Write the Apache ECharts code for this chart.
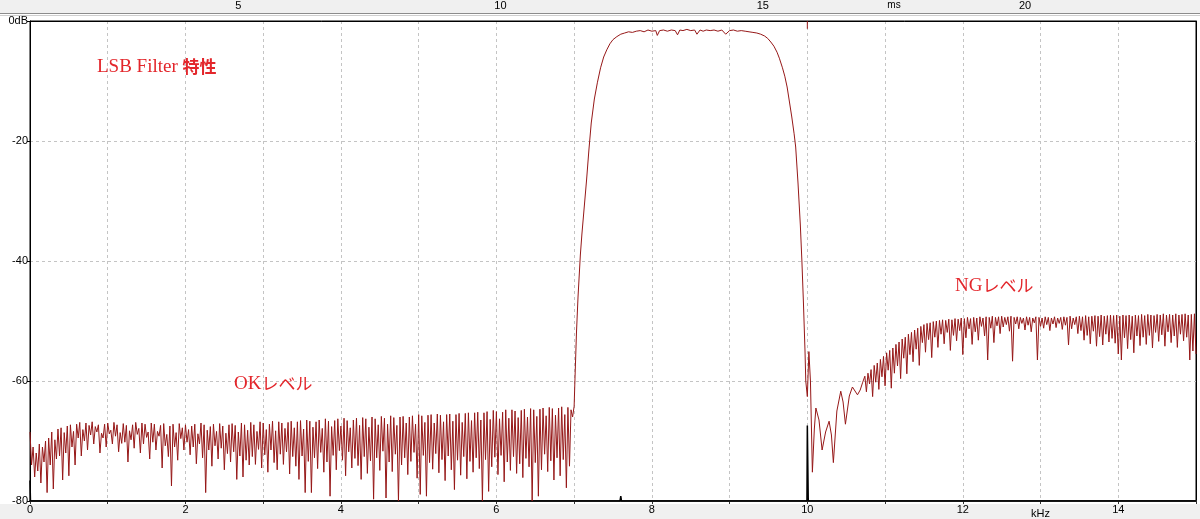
<!DOCTYPE html>
<html>
<head>
<meta charset="utf-8">
<script src="https://cdn.jsdelivr.net/npm/echarts@6/dist/echarts.min.js"></script>
<style>
  html, body { margin: 0; padding: 0; background: #ffffff; }
  #chart { width: 1200px; height: 519px; }
</style>
</head>
<body>
<div id="chart"></div>
<script>
// ---------- DATA ----------
// Stop-band noise below the filter, 0.00 .. 6.98 kHz, one value every 0.02 kHz
const noiseStartKHz = 0;
const noiseStepKHz = 0.02;
const noiseDb = [
  -68.5,-74,-71,-76,-72,-75,-70.5,-77,-71,-73.5,
  -70,-78.6,-69.5,-74,-68.5,-78,-69.8,-73,-68,-72.5,
  -67.8,-76.5,-68.6,-72,-67.5,-75.8,-67.3,-71,-68.4,-74,
  -67.2,-69.5,-66.9,-72.5,-68.1,-70,-67,-71.5,-67.4,-69,
  -66.8,-70.5,-67.6,-68.5,-67.3,-72,-68.7,-69.5,-67.2,-71,
  -67,-68.8,-68.2,-70.5,-66.9,-69.2,-67.3,-71.8,-68.6,-70.4,
  -67.1,-70.2,-67.4,-73.5,-68.3,-69.8,-67.3,-71.2,-66.9,-68.9,
  -67.9,-72,-67,-70.5,-67.2,-69.4,-68.5,-73,-67,-70.2,
  -67.2,-71.5,-68.4,-69.2,-67.4,-74.5,-67.1,-70.8,-68.9,-72.6,
  -67.5,-77.5,-67.2,-71,-68.6,-73.2,-67.1,-69.6,-67.8,-71.5,
  -67.3,-70.2,-68.1,-72.3,-67.5,-71,-67.2,-73.8,-68.8,-70.5,
  -67,-72.8,-67.3,-78.6,-68.2,-71.5,-67.6,-74.2,-67.2,-70.8,
  -68.4,-73,-67.1,-71.2,-67.5,-74.8,-68.7,-72.1,-67.3,-73.5,
  -67.1,-71.8,-67.4,-76.4,-68.5,-72.5,-67,-76,-67.3,-73.2,
  -68.2,-74,-66.9,-72.6,-67.3,-73.9,-68.4,-71.4,-66.8,-74.5,
  -67,-72.3,-68.1,-75.2,-67.2,-71.5,-66.7,-73.6,-68.3,-74.8,
  -66.8,-72.2,-67,-73.9,-67.9,-71.8,-66.9,-75.5,-66.7,-72.6,
  -67.8,-74.2,-66.8,-76.4,-66.6,-72.5,-68,-78.6,-66.5,-73.4,
  -66.7,-78.6,-67.7,-72.8,-66.8,-74.6,-66.5,-71.9,-67.9,-75.2,
  -66.3,-73.5,-66.7,-79.2,-67.6,-72.4,-66.6,-74.8,-66.3,-71.6,
  -67.5,-73.2,-66.2,-75.8,-66.6,-71.8,-67.8,-74.5,-66.5,-72.9,
  -66.2,-74.1,-67.4,-76.4,-66.1,-72.6,-66.3,-75.4,-67.7,-73.3,
  -66,-79.7,-66.3,-72.8,-67.3,-74.9,-65.9,-71.7,-66.2,-79.5,
  -67.2,-73.5,-65.8,-75.1,-66.1,-72.2,-67.4,-80,-66,-74,
  -65.9,-72.8,-67,-75.6,-66,-73.4,-65.8,-71.9,-67.2,-76.2,
  -65.6,-78.9,-65.8,-72.4,-66.9,-79.2,-65.7,-73.6,-65.6,-74.7,
  -67,-72.1,-65.5,-75.3,-65.7,-73.1,-66.8,-76.6,-65.6,-72.5,
  -65.5,-74.8,-66.7,-78.1,-65.6,-73.2,-65.4,-75.7,-66.9,-72.6,
  -65.4,-76.3,-65.3,-73.4,-66.6,-75.2,-65.3,-72.8,-65.2,-74.6,
  -66.5,-80,-65.3,-73.1,-65.1,-78.4,-66.4,-74.3,-64.9,-72.7,
  -65.1,-75.6,-66.3,-72.4,-65.2,-76.8,-64.8,-73.5,-66.2,-74.9,
  -64.8,-72.6,-65,-75.4,-66.1,-73.8,-64.9,-76.1,-64.7,-72.9,
  -66,-74.3,-64.6,-80,-64.8,-73.6,-65.9,-79.2,-64.7,-74.8,
  -64.5,-72.2,-65.8,-75.1,-64.4,-73.3,-64.6,-76.5,-65.7,-72.8,
  -64.5,-75.8,-64.3,-73.1,-65.6,-77.8,-64.4,-74.2,-64.8,-66
];

// Pass band of the LSB filter (kHz, dB)
const passKHz = [7.00,7.01,7.03,7.05,7.08,7.10,7.13,7.16,7.19,7.22,7.26,7.30,7.34,7.38,7.42,7.46,7.50,7.55,7.60,7.65,
  7.70,7.75,7.80,7.85,7.90,7.95,8.00,8.05,8.07,8.10,8.15,8.20,8.25,8.30,8.33,8.36,8.40,8.45,8.50,8.55,
  8.58,8.62,8.66,8.70,8.75,8.80,8.85,8.90,8.95,9.00,9.05,9.10,9.15,9.20,9.25,9.30,9.35,9.40,9.45,9.49,
  9.53,9.57,9.61,9.64,9.68,9.71,9.74,9.77,9.80,9.83,9.85,9.88,9.91,9.93,9.95,9.97,9.98,10.00];
const passDb = [-64.2,-60,-52,-46,-39,-35.5,-31,-26.5,-21.5,-17,-13,-10.2,-7.8,-6,-4.8,-3.8,-3.1,-2.6,-2.2,-2.0,
  -1.8,-1.9,-1.7,-1.6,-1.8,-1.5,-1.7,-1.6,-2.4,-1.6,-1.5,-1.7,-1.5,-1.6,-2.3,-1.5,-1.6,-1.4,-1.6,-1.5,
  -2.2,-1.5,-1.7,-1.5,-1.6,-1.5,-1.7,-1.5,-2.2,-1.6,-1.5,-1.7,-1.6,-1.7,-1.8,-1.9,-2.0,-2.2,-2.5,-2.9,
  -3.5,-4.2,-5.2,-6.2,-7.8,-9.2,-11,-13.5,-16,-18.8,-21,-27,-34,-40,-47,-55,-60,-62.6];

// Just above the filter edge (kHz, dB)
const edgeKHz = [10.02,10.04,10.065,10.09,10.11,10.15,10.19,10.235,10.28,10.31,10.335,10.38,10.43,10.46,10.49,10.54,10.58,10.645,10.68,10.71];
const edgeDb  = [-55.1,-60,-75.2,-68,-64.5,-66.5,-71.5,-68.5,-66.7,-69,-73.6,-65,-61.7,-63.5,-67.2,-62.5,-61,-62.3,-61.5,-60.3];

// Upper stop band (NG level), 10.74 .. 15.00 kHz, one value every 0.02 kHz
const stopStartKHz = 10.74;
const stopStepKHz = 0.02;
const stopDb = [
  -59.2,-61.8,-58.7,-60.5,-58.1,-62.6,-57.4,-60.2,-57,-61.4,
  -56.4,-59.3,-55.9,-60.8,-55.3,-58.2,-54.9,-61.2,-54.5,-58.7,
  -53.9,-57.5,-53.5,-59.6,-53,-56.2,-52.7,-58.8,-52.2,-55.6,
  -51.9,-56.8,-51.5,-54.7,-51.2,-57.4,-50.9,-53.6,-50.6,-55.2,
  -50.4,-53.1,-50.3,-56.1,-50.1,-52.7,-50,-54.4,-49.9,-52.2,
  -49.8,-53.8,-49.9,-51.9,-49.7,-54.9,-49.8,-52.4,-49.6,-53.3,
  -49.7,-51.6,-49.5,-55.6,-49.6,-52.8,-49.4,-51.3,-49.6,-53.9,
  -49.4,-51.8,-49.5,-53.2,-49.3,-50.9,-49.5,-52.5,-49.3,-56.5,
  -49.4,-51.2,-49.2,-53.6,-49.4,-50.8,-49.3,-52.1,-49.2,-51,
  -49.4,-50.6,-49.3,-51.7,-49.2,-56.7,-49.4,-50.5,-49.3,-51.3,
  -49.4,-50.4,-49.5,-51.5,-49.3,-50.7,-49.4,-51.8,-49.5,-50.3,
  -49.3,-56.5,-49.4,-50.9,-49.5,-51.2,-49.3,-50.6,-49.4,-51.6,
  -49.5,-50.5,-49.3,-51.1,-49.5,-50.4,-49.4,-51.4,-49.3,-50.7,
  -49.4,-54,-49.2,-51.3,-49.5,-50.6,-49.3,-52.1,-49.2,-51.6,
  -49.3,-53.2,-49.1,-52.4,-49.3,-53.8,-49.2,-51.7,-49.1,-54.2,
  -49.2,-52.6,-49,-54,-49.2,-52.2,-49.1,-53.5,-49,-52.9,
  -49.1,-53.7,-49,-55.5,-49.2,-56.5,-49,-52.8,-49.1,-54.6,
  -49,-53.1,-49.2,-55.3,-49,-52.5,-49.1,-54.1,-48.9,-52.7,
  -49.1,-53.9,-48.9,-52.4,-49,-54.5,-49.1,-51.9,-48.9,-53.4,
  -49,-52.3,-48.8,-54.2,-49,-51.8,-48.9,-53.6,-49,-52.5,
  -48.8,-54.4,-49,-52.2,-48.9,-53.3,-48.8,-52.7,-49,-56.5,
  -48.9,-55,-48.8,-55.5
];

// Second (black) trace: spikes standing on the -80 dB floor
const blackKHz = [0, 0.006, 7.59, 7.6, 7.61, 9.995, 10.0, 10.012, 15];
const blackDb  = [-76.6, -80, -80, -79.2, -80, -80, -67.4, -80, -80];

// Small red cursor mark at the top
const cursorKHz = [10.0, 10.0];
const cursorDb  = [0, -1.3];

// Axes
const kHzMin = 0, kHzMax = 15, kHzTick = 1;
const dbMin = -80, dbMax = 0, dbTick = 20;
const msMin = 1.03, msMax = 23.26;
const msTicks = [5, 10, 15, 20];

// Annotations
const titleText = 'LSB Filter 特性';
const okText = 'OKレベル';
const ngText = 'NGレベル';

// ---------- BUILD ----------
const mainTrace = [];
noiseDb.forEach((v, i) => mainTrace.push([+(noiseStartKHz + i * noiseStepKHz).toFixed(3), v]));
passKHz.forEach((f, i) => mainTrace.push([f, passDb[i]]));
edgeKHz.forEach((f, i) => mainTrace.push([f, edgeDb[i]]));
stopDb.forEach((v, i) => mainTrace.push([+(stopStartKHz + i * stopStepKHz).toFixed(3), v]));

const blackTrace = blackKHz.map((f, i) => [f, blackDb[i]]);
const cursorTrace = cursorKHz.map((f, i) => [f, cursorDb[i]]);

const chart = echarts.init(document.getElementById('chart'), null, { renderer: 'canvas' });
const axisFont = "'Liberation Sans', Arial, sans-serif";
const noteFont = "'Liberation Serif', 'Times New Roman', serif";
const cjkFont = "'Noto Sans CJK JP', sans-serif";
const noteColor = '#e3262b';
const traceColor = '#961818';

// wrap CJK runs of an annotation in a rich-text style so they get their own size
function richNote(t) { return t.replace(/([\u3000-\u9fff]+)/g, '{k|$1}'); }
function noteStyle(t, x, y, kSize, kWeight) {
  return {
    text: richNote(t), x: x, y: y, textAlign: 'left', textVerticalAlign: 'middle',
    fontSize: 19, fontFamily: noteFont, fill: noteColor,
    rich: { k: { fontSize: kSize, fontFamily: cjkFont, fill: noteColor, fontWeight: kWeight } }
  };
}

const gridLine = { show: true, showMinLine: false, showMaxLine: false, lineStyle: { color: '#c4c4c4', type: [3, 3], width: 1 } };

chart.setOption({
  animation: false,
  backgroundColor: '#ffffff',
  grid: {
    left: 30, right: 4, top: 20, height: 483,
    show: true, backgroundColor: '#ffffff', borderColor: '#000000', borderWidth: 1
  },
  xAxis: [
    {
      type: 'value', min: kHzMin, max: kHzMax, interval: kHzTick,
      position: 'bottom',
      axisLine: { show: true, onZero: false, lineStyle: { color: '#333333', width: 2 } },
      axisTick: { show: true, length: 3, lineStyle: { color: '#333333' } },
      axisLabel: {
        margin: 3, color: '#000000', fontSize: 11, fontFamily: axisFont,
        formatter: function (v) {
          if (v === 13) return '{u|kHz}';
          return v % 2 === 0 ? String(v) : '';
        },
        rich: { u: { fontSize: 11, fontFamily: axisFont, color: '#000000', padding: [4, 0, 0, 0] } }
      },
      splitLine: gridLine
    },
    {
      type: 'value', min: msMin, max: msMax,
      position: 'top',
      axisLine: { show: true, onZero: false, lineStyle: { color: '#000000', width: 1 } },
      axisTick: { show: false },
      splitLine: { show: false },
      axisLabel: {
        customValues: msTicks, margin: 10, color: '#000000', fontSize: 11, fontFamily: axisFont
      }
    }
  ],
  yAxis: [
    {
      type: 'value', min: dbMin, max: dbMax, interval: dbTick,
      axisLine: { show: true, onZero: false, lineStyle: { color: '#000000', width: 1 } },
      axisTick: { show: true, length: 3, lineStyle: { color: '#000000' } },
      axisLabel: {
        margin: 2, color: '#000000', fontSize: 11, fontFamily: axisFont,
        formatter: function (v) { return v === 0 ? '0dB' : String(v); }
      },
      splitLine: gridLine
    },
    {
      type: 'value', min: dbMin, max: dbMax, position: 'right',
      axisLine: { show: true, onZero: false, lineStyle: { color: '#000000', width: 1 } },
      axisTick: { show: false }, axisLabel: { show: false }, splitLine: { show: false }
    }
  ],
  graphic: [
    { type: 'rect', z: -100, silent: true, shape: { x: 0, y: 0, width: 1200, height: 13 }, style: { fill: '#f0f0f0' } },
    { type: 'rect', z: -100, silent: true, shape: { x: 0, y: 504, width: 1200, height: 15 }, style: { fill: '#f0f0f0' } },
    { type: 'line', z: -90, silent: true, shape: { x1: 0, y1: 13.5, x2: 1200, y2: 13.5 }, style: { stroke: '#8c8c8c', lineWidth: 1 } },
    { type: 'line', z: -90, silent: true, shape: { x1: 0, y1: 15.5, x2: 1200, y2: 15.5 }, style: { stroke: '#cfcfcf', lineWidth: 1 } },
    { type: 'text', silent: true, style: { text: 'ms', x: 894, y: 5, textAlign: 'center', textVerticalAlign: 'middle', fontSize: 10, fontFamily: axisFont, fill: '#000000' } },
    { type: 'text', silent: true, z: 50, style: noteStyle(titleText, 97, 67, 17, 'bold') },
    { type: 'text', silent: true, z: 50, style: noteStyle(okText, 234, 384, 17, 'normal') },
    { type: 'text', silent: true, z: 50, style: noteStyle(ngText, 955, 286, 17, 'normal') }
  ],
  series: [
    {
      type: 'line', xAxisIndex: 0, yAxisIndex: 0, data: blackTrace, showSymbol: false, symbol: 'none',
      lineStyle: { color: '#000000', width: 1.5 }, z: 3
    },
    {
      type: 'line', xAxisIndex: 0, yAxisIndex: 0, data: mainTrace, showSymbol: false, symbol: 'none',
      lineStyle: { color: traceColor, width: 1 }, z: 4
    },
    {
      type: 'line', xAxisIndex: 0, yAxisIndex: 0, data: cursorTrace, showSymbol: false, symbol: 'none',
      lineStyle: { color: traceColor, width: 1 }, z: 4
    }
  ]
});
</script>
</body>
</html>
